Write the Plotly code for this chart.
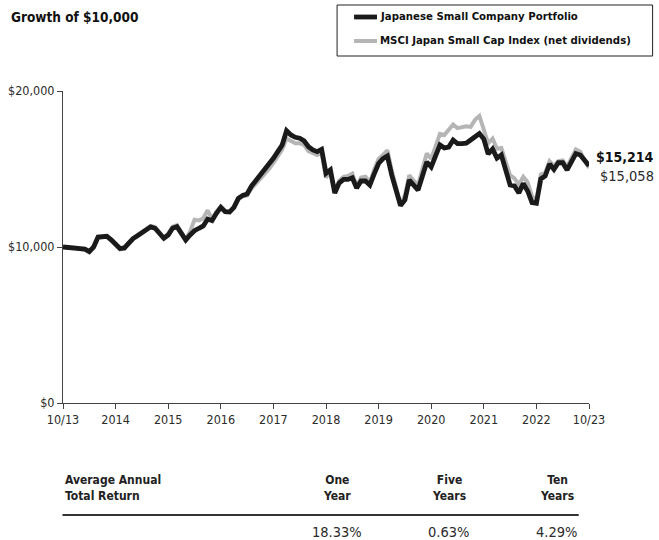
import plotly.graph_objects as go

# ---------------- data ----------------
months = list(range(121))  # monthly points, 10/2013 .. 10/2023

portfolio = [
    10000, 9980, 9960, 9950, 9900, 9860, 9710, 10010, 10640, 10670,
    10690, 10460, 10200, 9900, 9940, 10290, 10540, 10720, 10920, 11080,
    11290, 11200, 10880, 10560, 10770, 11200, 11300, 10880, 10450, 10770,
    11040, 11200, 11350, 11790, 11690, 12160, 12540, 12260, 12240, 12540,
    13120, 13310, 13400, 13910, 14250, 14610, 14940, 15260, 15690, 16110,
    16540, 17450, 17180, 17030, 16970, 16810, 16430, 16220, 16110, 16260,
    14720, 14940, 13460, 14100, 14330, 14330, 14440, 13780, 14230, 14230,
    13970, 14680, 15350, 15670, 15830, 14610, 13530, 12660, 13010, 14290,
    13970, 13650, 14550, 15450, 15130, 15830, 16540, 16350, 16410, 16860,
    16630, 16630, 16650, 16860, 17110, 17270, 16920, 15960, 16280, 15700,
    15900, 14940, 13970, 13910, 13460, 14070, 13590, 12850, 12800, 14360,
    14550, 15320, 14970, 15400, 15400, 14940, 15450, 15990, 15900, 15580,
    15214,
]

index = [
    10000, 9990, 9950, 9930, 9870, 9820, 9650, 9960, 10600, 10640,
    10650, 10400, 10150, 9850, 9900, 10300, 10580, 10780, 10980, 11150,
    11350, 11280, 10950, 10600, 10850, 11300, 11400, 10950, 10500, 11000,
    11750, 11700, 11850, 12350, 11800, 12250, 12600, 12300, 12250, 12550,
    13050, 13250, 13300, 13750, 14050, 14400, 14700, 15000, 15400, 15850,
    16250, 16950, 16800, 16650, 16650, 16550, 16150, 16000, 15900, 16050,
    14450, 14800, 13550, 14250, 14500, 14550, 14700, 13900, 14450, 14500,
    14150, 14950, 15650, 15900, 16200, 14900, 13700, 12750, 13300, 14600,
    14250, 13950, 15000, 16000, 15650, 16500, 17250, 17180, 17500, 17850,
    17620, 17650, 17740, 17700, 18150, 18400, 17500, 16650, 16950, 16300,
    16350, 15450, 14600, 14400, 14000, 14500, 14150, 13250, 13000, 14650,
    14750, 15500, 15200, 15500, 15550, 15150, 15650, 16250, 16100, 15600,
    15058,
]

series_names = ["Japanese Small Company Portfolio",
                "MSCI Japan Small Cap Index (net dividends)"]
end_labels = ["$15,214", "$15,058"]

x_tick_vals = [0, 12, 24, 36, 48, 60, 72, 84, 96, 108, 120]
x_tick_text = ["10/13", "2014", "2015", "2016", "2017", "2018",
               "2019", "2020", "2021", "2022", "10/23"]
y_tick_vals = [0, 10000, 20000]
y_tick_text = ["$0", "$10,000", "$20,000"]

table_header = ["One<br>Year", "Five<br>Years", "Ten<br>Years"]
table_values = ["18.33%", "0.63%", "4.29%"]

# ---------------- layout helpers ----------------
W, H = 659, 540
L, R, T, B = 62.5, 589.3, 91, 403
FONT = "DejaVu Sans Condensed, Liberation Sans Narrow, Arial Narrow, sans-serif"
BLACK = "#1a1a1a"
GRAY = "#b5b5b5"
TEXT = "#2b2b2b"


def px(x):
    return (x - L) / (R - L)


def py(y):
    return (B - y) / (B - T)


fig = go.Figure()
fig.add_trace(go.Scatter(x=months, y=index, mode="lines", name=series_names[1],
                         line=dict(color=GRAY, width=4), hoverinfo="skip"))
fig.add_trace(go.Scatter(x=months, y=portfolio, mode="lines", name=series_names[0],
                         line=dict(color=BLACK, width=4.8), hoverinfo="skip"))

shapes = []
annotations = []

# Title
annotations.append(dict(x=px(8), y=py(17), xref="paper", yref="paper",
                        text="<b>Growth of $10,000</b>", showarrow=False,
                        xanchor="left", yanchor="middle",
                        font=dict(family=FONT, size=13.5, color="#111")))

# Legend box
shapes.append(dict(type="rect", xref="paper", yref="paper",
                   x0=px(337), x1=px(653), y0=py(5), y1=py(56),
                   line=dict(color="#222", width=1), fillcolor="white"))
for i, (col, wd, yy) in enumerate([(BLACK, 4.8, 17), (GRAY, 4, 41)]):
    shapes.append(dict(type="line", xref="paper", yref="paper",
                       x0=px(354), x1=px(377), y0=py(yy), y1=py(yy),
                       line=dict(color=col, width=wd)))
    annotations.append(dict(x=px(378), y=py(yy), xref="paper", yref="paper",
                            text="<b>" + series_names[i] + "</b>", showarrow=False,
                            xanchor="left", yanchor="middle",
                            font=dict(family=FONT, size=11.3, color="#111")))

# End labels
annotations.append(dict(x=px(656), y=py(157), xref="paper", yref="paper",
                        text="<b>" + end_labels[0] + "</b>", showarrow=False,
                        xanchor="right", yanchor="middle",
                        font=dict(family=FONT, size=14, color="#111")))
annotations.append(dict(x=px(656), y=py(176), xref="paper", yref="paper",
                        text=end_labels[1], showarrow=False,
                        xanchor="right", yanchor="middle",
                        font=dict(family=FONT, size=14.5, color=TEXT)))

# Table
annotations.append(dict(x=px(62), y=py(488), xref="paper", yref="paper",
                        text="<b>Average Annual<br>Total Return</b>", showarrow=False,
                        xanchor="left", yanchor="middle", align="left",
                        font=dict(family=FONT, size=12, color="#222")))
col_x = [337, 449, 557]
for cx, hdr, val in zip(col_x, table_header, table_values):
    annotations.append(dict(x=px(cx), y=py(488), xref="paper", yref="paper",
                            text="<b>" + hdr + "</b>", showarrow=False,
                            xanchor="center", yanchor="middle", align="center",
                            font=dict(family=FONT, size=12, color="#222")))
    annotations.append(dict(x=px(cx), y=py(532), xref="paper", yref="paper",
                            text=val, showarrow=False,
                            xanchor="center", yanchor="middle",
                            font=dict(family=FONT, size=14.5, color=TEXT)))
shapes.append(dict(type="line", xref="paper", yref="paper",
                   x0=px(62), x1=px(579), y0=py(515), y1=py(515),
                   line=dict(color="#333", width=2)))

fig.update_layout(
    template="none",
    width=W, height=H,
    margin=dict(l=L, r=W - R, t=T, b=H - B, pad=0, autoexpand=False),
    paper_bgcolor="white", plot_bgcolor="white",
    showlegend=False,
    font=dict(family=FONT, size=12, color=TEXT),
    shapes=shapes, annotations=annotations,
    xaxis=dict(range=[0, 120], tickvals=x_tick_vals, ticktext=x_tick_text,
               showgrid=False, zeroline=False, showline=True, automargin=False,
               linecolor="#444", linewidth=1, ticks="outside", ticklen=5,
               tickcolor="#444", tickfont=dict(family=FONT, size=12.5, color=TEXT),
               fixedrange=True),
    yaxis=dict(range=[0, 20000], tickvals=y_tick_vals, ticktext=y_tick_text,
               showgrid=False, zeroline=False, showline=True, automargin=False,
               linecolor="#444", linewidth=1, ticks="outside", ticklen=5,
               tickcolor="#444", tickfont=dict(family=FONT, size=12.5, color=TEXT),
               fixedrange=True),
)

fig.write_html("out.html", config={"displayModeBar": False},
               post_script="document.body.style.margin='0';document.body.style.padding='0';")
